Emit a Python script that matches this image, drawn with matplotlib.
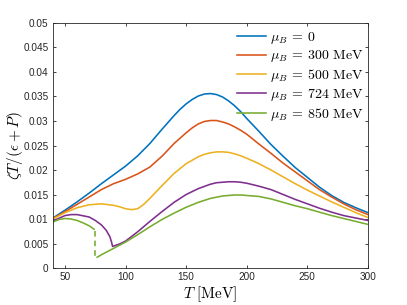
import matplotlib
matplotlib.use("Agg")
import matplotlib.pyplot as plt

plt.rcParams["mathtext.fontset"] = "cm"
plt.rcParams["font.family"] = ["Liberation Sans", "DejaVu Sans"]

# values (T in MeV, zeta T/(e+P))
T_blue = [40, 50, 60, 70, 80, 90, 100, 110, 120, 130, 140, 145, 150, 155, 160, 165,
          170, 175, 180, 185, 190, 195, 200, 205, 210, 220, 230, 240, 250, 260, 270,
          280, 290, 300]
v_blue = [0.0102, 0.0118, 0.0135, 0.0153, 0.0172, 0.0190, 0.0208, 0.0229, 0.0254,
          0.0283, 0.0311, 0.0324, 0.0335, 0.0344, 0.0351, 0.0355, 0.0356, 0.0354,
          0.0349, 0.0341, 0.0331, 0.0319, 0.0305, 0.0292, 0.0279, 0.0252, 0.0228,
          0.0205, 0.0185, 0.0165, 0.0148, 0.0134, 0.0123, 0.0113]

T_orange = [40, 50, 60, 70, 80, 90, 100, 110, 120, 130, 140, 150, 155, 160, 165, 170,
            175, 180, 185, 190, 195, 200, 210, 220, 230, 240, 250, 260, 270, 280,
            290, 300]
v_orange = [0.0101, 0.0115, 0.0130, 0.0145, 0.0160, 0.0172, 0.0181, 0.0192, 0.0206,
            0.0228, 0.0254, 0.0276, 0.0286, 0.0294, 0.0299, 0.0301, 0.0301, 0.0298,
            0.0294, 0.0288, 0.0281, 0.0273, 0.0253, 0.0234, 0.0214, 0.0196, 0.0178,
            0.0160, 0.0145, 0.0131, 0.0119, 0.0109]

T_yellow = [40, 50, 60, 70, 80, 90, 95, 100, 105, 110, 115, 120, 130, 140, 150, 160,
            165, 170, 175, 180, 185, 190, 195, 200, 210, 220, 230, 240, 250, 260,
            270, 280, 290, 300]
v_yellow = [0.0100, 0.0113, 0.0123, 0.0129, 0.0131, 0.0128, 0.0125, 0.0121, 0.0119,
            0.0121, 0.0130, 0.0142, 0.0168, 0.0193, 0.0213, 0.0227, 0.0232, 0.0235,
            0.0237, 0.0237, 0.0236, 0.0233, 0.0229, 0.0224, 0.0213, 0.0200, 0.0186,
            0.0172, 0.0159, 0.0147, 0.0135, 0.0124, 0.0113, 0.0103]

T_purple = [40, 50, 55, 60, 70, 75, 80, 84, 87, 88.5, 89.2, 95, 100, 110, 120, 130,
            140, 150, 160, 170, 175, 180, 185, 190, 195, 200, 210, 220, 230, 240,
            250, 260, 270, 280, 290, 300]
v_purple = [0.0096, 0.0107, 0.0109, 0.0109, 0.0104, 0.0097, 0.0088, 0.0077, 0.0064,
            0.0052, 0.0044, 0.0049, 0.0055, 0.0074, 0.0095, 0.0115, 0.0134, 0.0150,
            0.0162, 0.0171, 0.0174, 0.0175, 0.0176, 0.0176, 0.0175, 0.0173, 0.0167,
            0.0160, 0.0150, 0.0140, 0.0131, 0.0122, 0.0114, 0.0107, 0.0102, 0.0097]

T_green_lo = [40, 45, 50, 55, 60, 65, 70, 74]
v_green_lo = [0.0094, 0.0099, 0.0101, 0.0100, 0.0097, 0.0092, 0.0086, 0.0079]
T_green_jump = [75, 75]
v_green_jump = [0.0076, 0.0022]
T_green_hi = [76.5, 80, 90, 100, 110, 120, 130, 140, 150, 160, 170, 180, 185, 190,
              195, 200, 210, 220, 230, 240, 250, 260, 270, 280, 290, 300]
v_green_hi = [0.0022, 0.0027, 0.0040, 0.0053, 0.0068, 0.0084, 0.0099, 0.0112, 0.0124,
              0.0134, 0.0142, 0.0147, 0.0148, 0.0149, 0.0149, 0.0148, 0.0146, 0.0141,
              0.0134, 0.0127, 0.0121, 0.0114, 0.0107, 0.0101, 0.0095, 0.0089]

labels = [r"$\mu_B\:=\:0$", r"$\mu_B\:=\:300\ \mathrm{MeV}$",
          r"$\mu_B\:=\:500\ \mathrm{MeV}$", r"$\mu_B\:=\:724\ \mathrm{MeV}$",
          r"$\mu_B\:=\:850\ \mathrm{MeV}$"]
colors = ["#0072BD", "#D95319", "#EDB120", "#7E2F8E", "#77AC30"]

x_ticks = [50, 100, 150, 200, 250, 300]
y_ticks = [0, 0.005, 0.01, 0.015, 0.02, 0.025, 0.03, 0.035, 0.04, 0.045, 0.05]
y_ticklabels = ["0", "0.005", "0.01", "0.015", "0.02", "0.025", "0.03", "0.035",
                "0.04", "0.045", "0.05"]

fig = plt.figure(figsize=(4.07, 3.05), dpi=100)
ax = fig.add_axes([0.130, 0.1213, 0.774, 0.8033])

lw = 1.15
ax.plot(T_blue, v_blue, color=colors[0], lw=lw, label=labels[0])
ax.plot(T_orange, v_orange, color=colors[1], lw=lw, label=labels[1])
ax.plot(T_yellow, v_yellow, color=colors[2], lw=lw, label=labels[2])
ax.plot(T_purple, v_purple, color=colors[3], lw=lw, label=labels[3])
ax.plot(T_green_lo, v_green_lo, color=colors[4], lw=lw, label=labels[4])
ax.plot(T_green_jump, v_green_jump, color=colors[4], lw=lw, dashes=(3.5, 2.5))
ax.plot(T_green_hi, v_green_hi, color=colors[4], lw=lw)

ax.set_xlim(40, 300)
ax.set_ylim(0, 0.05)
ax.set_xticks(x_ticks)
ax.set_yticks(y_ticks)
ax.set_yticklabels(y_ticklabels)

axcol = "#262626"
for s in ax.spines.values():
    s.set_color(axcol)
    s.set_linewidth(0.6)
ax.tick_params(direction="in", length=2.3, width=0.6, color=axcol,
               labelcolor=axcol, labelsize=7.2, top=True, right=True, pad=3)

ax.set_xlabel(r"$T\ [\mathrm{MeV}]$", fontsize=11)
ax.xaxis.set_label_coords(0.5, -0.065)
ax.set_ylabel(r"$\zeta T/(\epsilon+P)$", fontsize=11)
ax.yaxis.set_label_coords(-0.088, 0.5)

ax.legend(loc="upper left", bbox_to_anchor=(0.582, 0.903), bbox_transform=fig.transFigure,
          frameon=False, fontsize=10, handlelength=2.1, handletextpad=0.3,
          labelspacing=0.2, borderpad=0, borderaxespad=0)

fig.savefig("out.png", dpi=100)
